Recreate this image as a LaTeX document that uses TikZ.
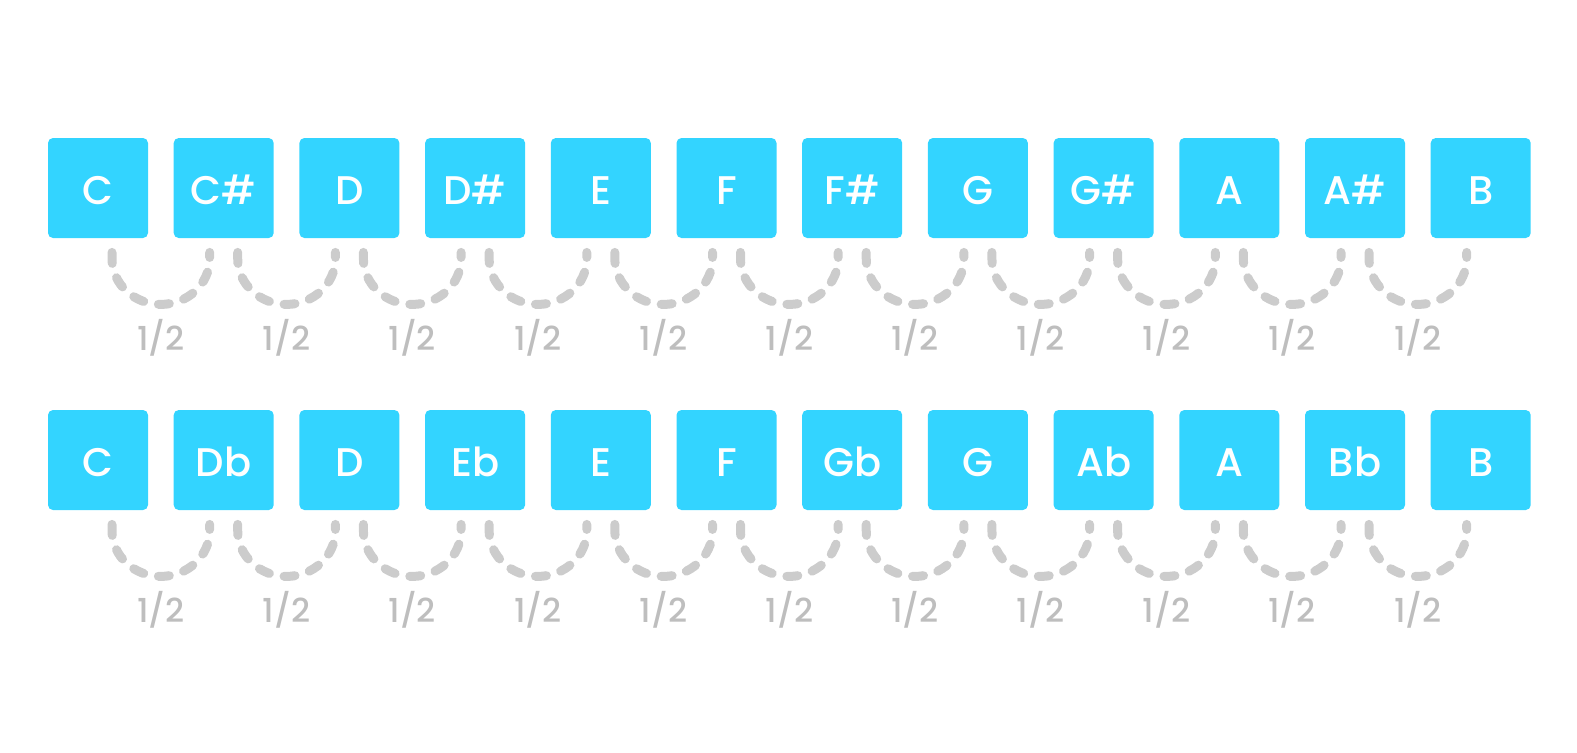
\documentclass[tikz,border=0pt]{standalone}
\usepackage{fontspec}
\setmainfont{Poppins Medium}
\usetikzlibrary{calc}
\definecolor{keyblue}{RGB}{51,212,255}
\definecolor{arcgray}{RGB}{204,204,204}
\definecolor{labgray}{RGB}{190,190,190}
\tikzset{
  notebox/.style={fill=keyblue, rounded corners=2.5pt, minimum width=50pt, minimum height=50pt, inner sep=0pt, text=white, font=\fontsize{20}{20}\selectfont, text height=16.8pt, text depth=0pt},
  semiarc/.style={draw=arcgray, line width=4.5pt, line cap=round, dash pattern=on 5.5pt off 7.5pt},
  halflab/.style={text=labgray, font=\fontsize{16.5}{16.5}\selectfont}
}
\begin{document}
\begin{tikzpicture}[x=0.5pt,y=-0.5pt]
\useasboundingbox (0,0) rectangle (1577,752);
\foreach \row/\yy/\names in {a/188/{C,C\#,D,D\#,E,F,F\#,G,G\#,A,A\#,B}, b/460/{C,Db,D,Eb,E,F,Gb,G,Ab,A,Bb,B}}{
  \foreach \n [count=\i from 0] in \names {
    \node[notebox] (\row\i) at ({98+125.7*\i},\yy) {\n};
  }
  \foreach \i [evaluate=\i as \j using int(\i+1)] in {0,...,10}{
    \coordinate (\row s\i) at ($(\row\i.south)+(7pt,-7pt)$);
    \coordinate (\row e\i) at ($(\row\j.south)+(-7pt,-7pt)$);
    \coordinate (\row m\i) at ($($(\row s\i)!0.5!(\row e\i)$)+(0,-26pt)$);
    \draw[semiarc] (\row s\i) -- ++(0,-3pt) to[out=-90,in=180] (\row m\i) to[out=0,in=-90] ($(\row e\i)+(0,-3pt)$) -- (\row e\i);
    \node[halflab] (\row l\i) at ($(\row m\i)+(0,-16.5pt)$) {1/2};
  }
}
\end{tikzpicture}
\end{document}
